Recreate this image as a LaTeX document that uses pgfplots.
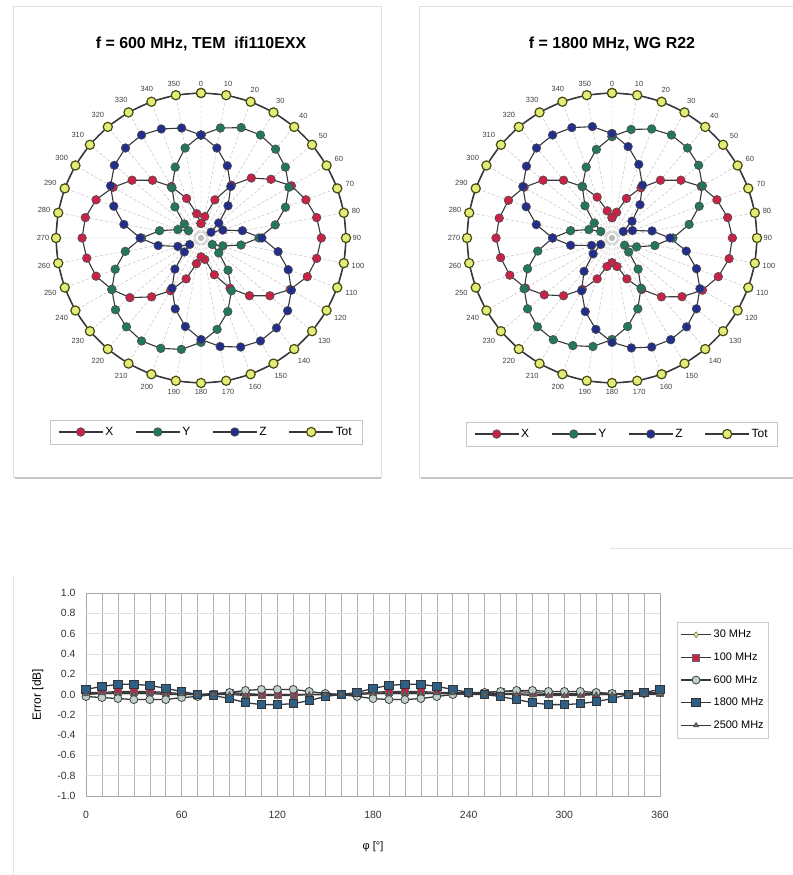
\documentclass[border=0pt]{standalone}
\usepackage{fontspec}
\setmainfont{Liberation Sans}
\usepackage{pgfplots}
\usepackage{pgfplotstable}
\pgfplotsset{compat=1.18}
\usepgfplotslibrary{polar}

\definecolor{cx}{RGB}{200,35,70}
\definecolor{cy}{RGB}{35,120,90}
\definecolor{cz}{RGB}{35,45,140}
\definecolor{ctot}{RGB}{228,236,120}
\definecolor{ctotedge}{RGB}{70,75,20}
\definecolor{cline}{RGB}{55,55,60}
\definecolor{c1800}{RGB}{45,95,135}
\definecolor{c600}{RGB}{190,208,204}

% 600 MHz, TEM cell
\pgfplotstableread{
ang X Y Z Tot
0 0.10 0.71 0.71 1.00
10 0.15 0.77 0.63 1.00
20 0.28 0.81 0.53 1.00
30 0.42 0.82 0.41 1.00
40 0.54 0.80 0.29 1.00
50 0.63 0.76 0.16 1.00
60 0.72 0.70 0.08 1.00
70 0.77 0.62 0.16 1.00
80 0.81 0.52 0.29 1.00
90 0.83 0.40 0.42 1.00
100 0.81 0.28 0.54 1.00
110 0.78 0.16 0.64 1.00
120 0.71 0.09 0.72 1.00
130 0.62 0.16 0.78 1.00
140 0.52 0.29 0.81 1.00
150 0.40 0.42 0.82 1.00
160 0.27 0.54 0.80 1.00
170 0.15 0.64 0.76 1.00
180 0.13 0.72 0.70 1.00
190 0.18 0.78 0.62 1.00
200 0.30 0.81 0.52 1.00
210 0.42 0.82 0.40 1.00
220 0.53 0.80 0.28 1.00
230 0.64 0.77 0.15 1.00
240 0.71 0.71 0.09 1.00
250 0.77 0.63 0.17 1.00
260 0.80 0.53 0.30 1.00
270 0.82 0.41 0.42 1.00
280 0.81 0.29 0.54 1.00
290 0.77 0.17 0.64 1.00
300 0.70 0.10 0.72 1.00
310 0.62 0.15 0.78 1.00
320 0.52 0.28 0.81 1.00
330 0.41 0.40 0.82 1.00
340 0.29 0.52 0.80 1.00
350 0.17 0.63 0.77 1.00
360 0.10 0.71 0.71 1.00
}\tabA

% 1800 MHz, waveguide
\pgfplotstableread{
ang X Y Z Tot
0 0.14 0.70 0.72 1.00
10 0.18 0.76 0.64 1.00
20 0.29 0.80 0.54 1.00
30 0.40 0.82 0.42 1.00
40 0.52 0.81 0.30 1.00
50 0.62 0.78 0.18 1.00
60 0.71 0.72 0.09 1.00
70 0.77 0.64 0.15 1.00
80 0.81 0.54 0.28 1.00
90 0.83 0.42 0.40 1.00
100 0.82 0.30 0.52 1.00
110 0.78 0.18 0.62 1.00
120 0.72 0.10 0.70 1.00
130 0.63 0.15 0.76 1.00
140 0.53 0.28 0.80 1.00
150 0.41 0.40 0.81 1.00
160 0.30 0.52 0.80 1.00
170 0.20 0.62 0.77 1.00
180 0.17 0.70 0.72 1.00
190 0.20 0.76 0.64 1.00
200 0.30 0.79 0.54 1.00
210 0.41 0.81 0.42 1.00
220 0.52 0.80 0.30 1.00
230 0.61 0.76 0.17 1.00
240 0.69 0.70 0.09 1.00
250 0.75 0.62 0.15 1.00
260 0.78 0.52 0.29 1.00
270 0.80 0.41 0.41 1.00
280 0.79 0.29 0.53 1.00
290 0.76 0.17 0.63 1.00
300 0.70 0.09 0.71 1.00
310 0.62 0.16 0.77 1.00
320 0.52 0.29 0.81 1.00
330 0.41 0.41 0.82 1.00
340 0.30 0.52 0.81 1.00
350 0.19 0.62 0.78 1.00
360 0.14 0.70 0.72 1.00
}\tabB

% isotropy error vs rotation angle
\pgfplotstableread{
phi f30 f100 f600 f1800 f2500
0 0.01 0.02 -0.02 0.05 0.00
10 0.01 0.02 -0.03 0.08 0.01
20 0.02 0.03 -0.04 0.10 0.01
30 0.02 0.03 -0.05 0.10 0.01
40 0.02 0.03 -0.05 0.09 0.01
50 0.01 0.02 -0.05 0.06 0.00
60 0.00 0.01 -0.03 0.03 0.00
70 0.00 0.00 -0.02 0.00 0.00
80 0.00 0.01 0.00 -0.01 0.00
90 0.01 0.02 0.02 -0.04 0.00
100 0.00 0.01 0.04 -0.08 -0.01
110 0.00 0.00 0.05 -0.10 -0.01
120 0.00 0.00 0.05 -0.10 -0.01
130 0.00 0.00 0.05 -0.09 -0.01
140 0.00 0.00 0.03 -0.06 0.00
150 0.00 0.00 0.01 -0.02 0.00
160 0.00 0.00 0.00 0.00 0.00
170 0.01 0.01 -0.02 0.02 0.00
180 0.01 0.02 -0.04 0.06 0.01
190 0.02 0.03 -0.05 0.09 0.01
200 0.02 0.03 -0.05 0.10 0.01
210 0.02 0.03 -0.04 0.10 0.01
220 0.01 0.02 -0.02 0.08 0.01
230 0.01 0.02 0.00 0.05 0.01
240 0.01 0.02 0.01 0.02 0.00
250 0.01 0.02 0.02 0.00 0.00
260 0.01 0.03 0.03 -0.02 0.00
270 0.01 0.03 0.04 -0.05 0.00
280 0.00 0.02 0.04 -0.08 -0.01
290 0.00 0.01 0.03 -0.10 -0.01
300 0.00 0.01 0.03 -0.10 -0.01
310 0.00 0.01 0.03 -0.09 -0.01
320 0.00 0.01 0.02 -0.07 0.00
330 0.00 0.01 0.01 -0.04 0.00
340 0.01 0.01 0.00 0.00 0.00
350 0.01 0.02 0.01 0.02 0.00
360 0.01 0.02 0.02 0.05 0.00
}\tabErr

\pgfplotsset{
  mypolar/.style={
    width=290bp, height=290bp, scale only axis,
    xmin=0, xmax=360, ymin=0, ymax=1,
    xtick={0,10,...,350},
    % compass angles: 0 at top, clockwise
    xticklabels={90,80,70,60,50,40,30,20,10,0,350,340,330,320,310,300,290,280,
                 270,260,250,240,230,220,210,200,190,180,170,160,150,140,130,120,110,100},
    xticklabel style={font=\fontsize{7.5}{8}\selectfont, text=black!75, inner sep=6.5bp},
    ytick=\empty,
    xmajorgrids,
    major grid style={densely dashed, gray!55, line width=0.4bp},
    axis line style={cline, line width=1bp},
    y axis line style={draw=none},
    major tick length=0pt,
    clip=false,
    x filter/.expression={mod(450-x,360)},
    title style={at={(0.5,1.121)}, anchor=center, font=\bfseries\fontsize{16}{18}\selectfont},
    legend columns=4,
    legend style={at={(0.517,-0.169)}, anchor=center, draw=gray!45, fill=white,
      font=\fontsize{12}{14}\selectfont, inner xsep=8bp, inner ysep=5bp,
      /tikz/every even column/.append style={column sep=20bp}},
    legend image code/.code={\draw[mark repeat=2,mark phase=2,##1]
      plot coordinates {(0bp,0bp) (22bp,0bp) (44bp,0bp)};},
  },
  comp/.style={line width=1.1bp, color=cline, mark=*, mark size=4.3bp,
    mark options={fill=#1, draw=black!70, line width=0.6bp}},
  tot/.style={line width=1.1bp, color=cline, mark=*, mark size=4.6bp,
    mark options={fill=ctot, draw=ctotedge, line width=1.2bp}},
}

\begin{document}
\begin{tikzpicture}[x=1bp,y=1bp]
\useasboundingbox (0,0) rectangle (793,875);
\fill[white] (0,0) rectangle (793,875);
% panel cards
\draw[gray!25, line width=0.8bp] (13,398) rectangle (381,869);
\draw[gray!45, line width=2bp] (15,397) -- (381,397);
\draw[gray!25, line width=0.8bp] (419,398) rectangle (800,869);
\draw[gray!45, line width=2bp] (421,397) -- (800,397);
\draw[gray!20, line width=0.8bp] (13,0) -- (13,300) (610,327) -- (800,327);

\begin{polaraxis}[mypolar, at={(201bp,637bp)}, anchor=center,
  title={f = 600 MHz, TEM\ \ ifi110EXX}]
\addplot[comp=cx] table[x=ang, y=X] {\tabA};
\addplot[comp=cy] table[x=ang, y=Y] {\tabA};
\addplot[comp=cz] table[x=ang, y=Z] {\tabA};
\addplot[tot] table[x=ang, y=Tot] {\tabA};
\legend{X, Y, Z, Tot}
\end{polaraxis}

\begin{polaraxis}[mypolar, at={(612bp,637bp)}, anchor=center,
  title={f = 1800 MHz, WG R22},
  legend style={at={(0.534,-0.176)}}]
\addplot[comp=cx] table[x=ang, y=X] {\tabB};
\addplot[comp=cy] table[x=ang, y=Y] {\tabB};
\addplot[comp=cz] table[x=ang, y=Z] {\tabB};
\addplot[tot] table[x=ang, y=Tot] {\tabB};
\legend{X, Y, Z, Tot}
\end{polaraxis}

\begin{axis}[at={(86bp,79bp)}, anchor=south west,
  width=574bp, height=203bp, scale only axis,
  xmin=0, xmax=360, ymin=-1, ymax=1,
  xtick={0,60,...,360}, minor x tick num=5,
  ytick={-1,-0.8,-0.6,-0.4,-0.2,0,0.2,0.4,0.6,0.8,1},
  /pgf/number format/assume math mode=true,
  ticklabel style={font=\fontsize{10.5}{12}\selectfont, text=black!80},
  xticklabel style={yshift=-12bp},
  yticklabel style={xshift=-7bp, /pgf/number format/fixed,
    /pgf/number format/fixed zerofill, /pgf/number format/precision=1},
  xmajorgrids, xminorgrids, ymajorgrids,
  major grid style={gray!60, line width=0.5bp},
  minor grid style={gray!60, line width=0.5bp},
  y grid style={gray!25, line width=0.5bp},
  extra y ticks={-0.8,-0.2,0.2,0.8},
  extra y tick labels={},
  extra y tick style={grid=major, major grid style={gray!70, line width=0.7bp}},
  axis line style={gray!70, line width=0.7bp},
  major tick length=0pt, minor tick length=0pt,
  xlabel={φ [°]}, ylabel={Error [dB]},
  xlabel style={at={(axis description cs:0.5,-0.25)}, anchor=center, font=\fontsize{11}{13}\selectfont},
  ylabel style={at={(axis description cs:-0.084,0.5)}, anchor=center, font=\fontsize{12}{14}\selectfont},
  legend style={at={(axis description cs:1.03,0.857)}, anchor=north west,
    draw=gray!40, fill=white, font=\fontsize{11}{13}\selectfont,
    row sep=9.5bp, inner ysep=6bp, cells={anchor=west}},
  legend image code/.code={\draw[mark repeat=2,mark phase=2,#1]
    plot coordinates {(0bp,0bp) (15bp,0bp) (30bp,0bp)};},
]
\addplot[line width=1.2bp, color=cline, mark=diamond*, mark size=3bp,
  mark options={fill=ctot, draw=black!60, line width=0.5bp}] table[x=phi, y=f30] {\tabErr};
\addplot[line width=1.2bp, color=cline, mark=square*, mark size=3.5bp,
  mark options={fill=cx, draw=black!60, line width=0.5bp}] table[x=phi, y=f100] {\tabErr};
\addplot[line width=1.3bp, color=cline, mark=*, mark size=4bp,
  mark options={fill=c600, draw=black!75, line width=0.8bp}] table[x=phi, y=f600] {\tabErr};
\addplot[line width=1.3bp, color=cline, mark=square*, mark size=4.2bp,
  mark options={fill=c1800, draw=black!80, line width=0.8bp}] table[x=phi, y=f1800] {\tabErr};
\addplot[line width=1.2bp, color=cline, mark=triangle*, mark size=3bp,
  mark options={fill=black!60, draw=black!70, line width=0.5bp}] table[x=phi, y=f2500] {\tabErr};
\legend{30 MHz, 100 MHz, 600 MHz, 1800 MHz, 2500 MHz}
\end{axis}
\end{tikzpicture}
\end{document}
